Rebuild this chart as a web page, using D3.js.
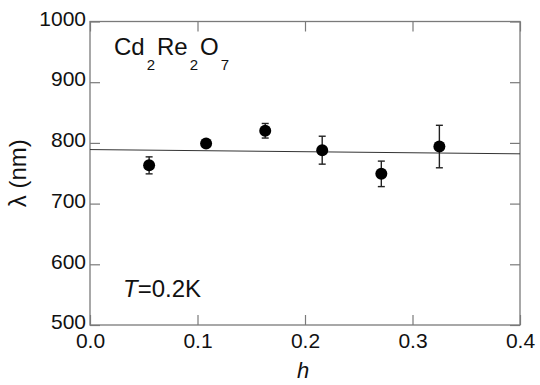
<!DOCTYPE html>
<html>
<head>
<meta charset="utf-8">
<script src="https://cdn.jsdelivr.net/npm/d3@7"></script>
<style>
  body { margin: 0; background: #fff; }
  text { font-family: "Liberation Sans", Arial, Helvetica, sans-serif; fill: #111; }
</style>
</head>
<body>
<script>
// data
var hVals = [0.055, 0.108, 0.163, 0.216, 0.271, 0.325];
var lambdaVals = [763, 799, 820, 788, 749, 794];
var lambdaErr = [14, 3, 12, 23, 21, 35];
var fitH = [0, 0.4];
var fitLambda = [789, 782];
var xTicks = [0, 0.1, 0.2, 0.3, 0.4];
var yTicks = [500, 600, 700, 800, 900, 1000];

var width = 540, height = 385;
var margin = {top: 21.5, right: 20, bottom: 60, left: 90};

var svg = d3.select("body").append("svg").attr("width", width).attr("height", height);

var x = d3.scaleLinear().domain([0, 0.4]).range([margin.left, width - margin.right]);
var y = d3.scaleLinear().domain([500, 1000]).range([height - margin.bottom, margin.top]);

var frameColor = "#7a7a7a";

// axes, ticks inward
function styleAxis(g) {
    g.select(".domain").remove();
    g.selectAll(".tick line").attr("stroke", frameColor).attr("stroke-width", 1.2);
    g.selectAll(".tick text").style("font-size", "21px").attr("fill", "#111");
}

svg.append("g")
    .attr("transform", "translate(0," + y(500) + ")")
    .call(d3.axisBottom(x).tickValues(xTicks).tickFormat(d3.format(".1f")).tickSizeInner(-10).tickSizeOuter(0).tickPadding(8))
    .call(styleAxis);

svg.append("g")
    .attr("transform", "translate(0," + y(1000) + ")")
    .call(d3.axisTop(x).tickValues(xTicks).tickFormat("").tickSizeInner(-10).tickSizeOuter(0))
    .call(styleAxis);

svg.append("g")
    .attr("transform", "translate(" + x(0) + ",0)")
    .call(d3.axisLeft(y).tickValues(yTicks).tickFormat(d3.format("d")).tickSizeInner(-10).tickSizeOuter(0).tickPadding(4))
    .call(styleAxis)
    .selectAll(".tick text").attr("dy", "0.18em");

svg.append("g")
    .attr("transform", "translate(" + x(0.4) + ",0)")
    .call(d3.axisRight(y).tickValues(yTicks).tickFormat("").tickSizeInner(-10).tickSizeOuter(0))
    .call(styleAxis);

// frame
svg.append("rect")
    .attr("x", x(0)).attr("y", y(1000))
    .attr("width", x(0.4) - x(0)).attr("height", y(500) - y(1000))
    .attr("fill", "none").attr("stroke", frameColor).attr("stroke-width", 1.3);

// fit line
svg.append("line")
    .attr("x1", x(fitH[0])).attr("y1", y(fitLambda[0]))
    .attr("x2", x(fitH[1])).attr("y2", y(fitLambda[1]))
    .attr("stroke", "#333").attr("stroke-width", 1);

var pts = hVals.map(function(h, i) { return {h: h, l: lambdaVals[i], e: lambdaErr[i]}; });

// error bars
var eb = svg.append("g").attr("stroke", "#222").attr("stroke-width", 1.4);
eb.selectAll(".v").data(pts).enter().append("line")
    .attr("x1", function(d) { return x(d.h); }).attr("x2", function(d) { return x(d.h); })
    .attr("y1", function(d) { return y(d.l - d.e); }).attr("y2", function(d) { return y(d.l + d.e); });
eb.selectAll(".t").data(pts).enter().append("line")
    .attr("x1", function(d) { return x(d.h) - 3.5; }).attr("x2", function(d) { return x(d.h) + 3.5; })
    .attr("y1", function(d) { return y(d.l + d.e); }).attr("y2", function(d) { return y(d.l + d.e); });
eb.selectAll(".b").data(pts).enter().append("line")
    .attr("x1", function(d) { return x(d.h) - 3.5; }).attr("x2", function(d) { return x(d.h) + 3.5; })
    .attr("y1", function(d) { return y(d.l - d.e); }).attr("y2", function(d) { return y(d.l - d.e); });

svg.selectAll("circle").data(pts).enter().append("circle")
    .attr("cx", function(d) { return x(d.h); })
    .attr("cy", function(d) { return y(d.l); })
    .attr("r", 6)
    .attr("fill", "#000");

// labels
svg.append("text")
    .attr("x", (x(0) + x(0.4)) / 2 - 2).attr("y", 378)
    .attr("text-anchor", "middle")
    .style("font-size", "22px").style("font-style", "italic")
    .text("h");

svg.append("text")
    .attr("transform", "translate(26," + ((y(500) + y(1000)) / 2) + ") rotate(-90)")
    .attr("text-anchor", "middle")
    .style("font-size", "24px")
    .text("λ (nm)");

var formula = svg.append("text").attr("x", 112).attr("y", 55).style("font-size", "24px");
var parts = [["Cd", false], ["2", true], ["Re", false], ["2", true], ["O", false], ["7", true]];
parts.forEach(function(p) {
    formula.append("tspan")
        .attr("y", p[1] ? 70 : 55)
        .attr("dx", 2)
        .style("font-size", p[1] ? "15px" : "24px")
        .text(p[0]);
});

var tlab = svg.append("text").attr("x", 123).attr("y", 297).style("font-size", "24px");
tlab.append("tspan").style("font-style", "italic").text("T");
tlab.append("tspan").text("=0.2K");
</script>
</body>
</html>
